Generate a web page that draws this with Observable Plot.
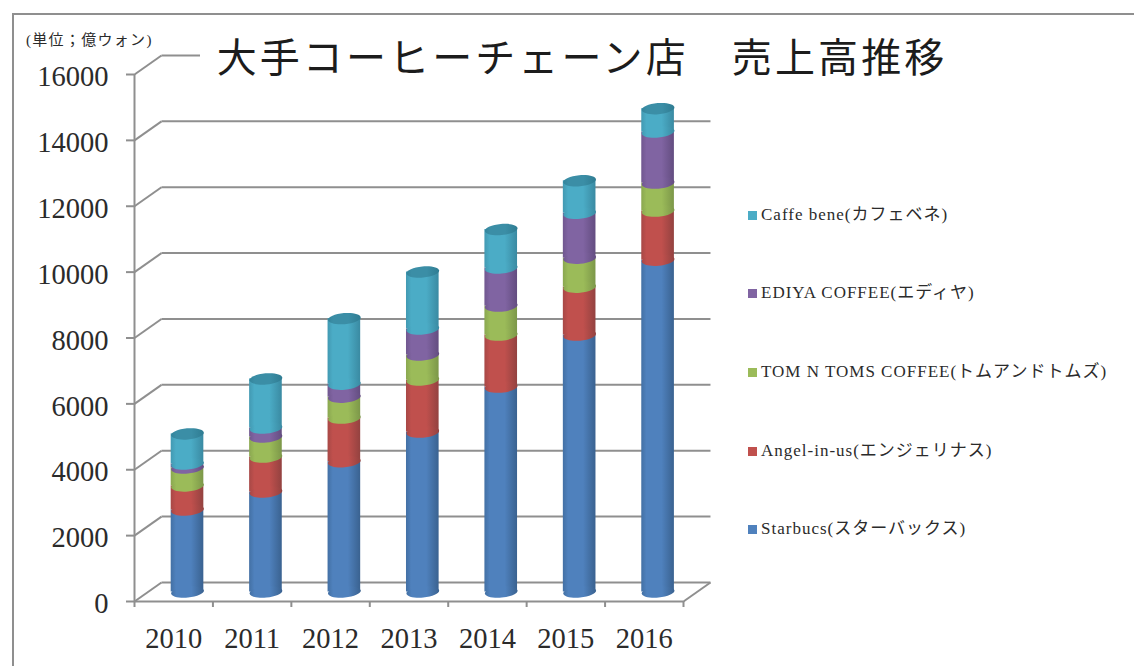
<!DOCTYPE html>
<html lang="ja">
<head>
<meta charset="utf-8">
<script src="https://cdn.jsdelivr.net/npm/d3@7"></script>
<script src="https://cdn.jsdelivr.net/npm/@observablehq/plot@0.6"></script>
<style>
html,body{margin:0;padding:0;background:#fff;overflow:hidden}
#page{position:relative;width:1134px;height:666px;overflow:hidden;font-family:"Liberation Serif","Noto Sans CJK JP",serif;color:#2b2b2b}
#frame{position:absolute;left:12px;top:13px;right:-4px;bottom:-4px;border:2.5px solid #8f8f8f;box-sizing:border-box}
#chart{position:absolute;left:0;top:0}
#title{position:absolute;left:200px;top:31px;width:764px;height:56px;background:#fff;text-align:center;font-size:40px;line-height:56px;letter-spacing:3.1px;font-weight:400;white-space:pre;color:#1c1c1c}
#unit{position:absolute;left:26px;top:31px;font-size:15px;line-height:18px;letter-spacing:1.3px;white-space:pre}
#legend{position:absolute;left:748px;top:0}
.item{position:absolute;left:0;white-space:nowrap;font-size:17px;line-height:18px;letter-spacing:1px;transform:translateY(-9px)}
.item i{display:inline-block;width:9px;height:9px;margin-right:4px;vertical-align:0}
</style>
</head>
<body>
<div id="page">
  <div id="frame"></div>
  <div id="chart"></div>
  <div id="title"></div>
  <div id="unit"></div>
  <div id="legend"></div>
</div>
<script>
const titleText = "大手コーヒーチェーン店　売上高推移";
const unitText = "(単位；億ウォン)";
const years = [2010, 2011, 2012, 2013, 2014, 2015, 2016];
const seriesNames = [
  "Starbucs(スターバックス)",
  "Angel-in-us(エンジェリナス)",
  "TOM N TOMS COFFEE(トムアンドトムズ)",
  "EDIYA COFFEE(エディヤ)",
  "Caffe bene(カフェベネ)"
];
const starbucks = [2490, 3035, 3955, 4855, 6220, 7800, 10075];
const angel     = [ 730, 1060, 1325, 1580, 1580, 1455,  1490];
const tomNToms  = [ 545,  610,  635,  760,  880,  880,   850];
const ediya     = [ 120,  275,  395,  790, 1155, 1365,  1550];
const caffeBene = [ 915, 1490, 1990, 1730, 1170,  985,   710];
const seriesValues = [starbucks, angel, tomNToms, ediya, caffeBene];
const yTicks = [0, 2000, 4000, 6000, 8000, 10000, 12000, 14000, 16000];
const xEdges = [2009.5, 2010.5, 2011.5, 2012.5, 2013.5, 2014.5, 2015.5, 2016.5];

const mid = ["#4f81bd", "#c0504d", "#9bbb59", "#8064a2", "#4bacc6"];
const edge = ["#3a6290", "#934240", "#7c9749", "#634d80", "#3a8aa2"];
const legendY = [529, 451, 372, 293, 215];

// depth of the 3D box, in scale units
const depthX = 0.344, depthY = 577;
const barHalf = 0.208;
const shiftX = 13.8, shiftY = -9.5;

// a tilted flat ellipse used for cylinder ends
const ellipse = {
  draw(ctx, size) {
    const rx = Math.sqrt(size / Math.PI), ry = rx * 0.34, t = -5 * Math.PI / 180;
    const c = Math.cos(t), s = Math.sin(t), k = 0.5523;
    const P = (x, y) => [x * c - y * s, x * s + y * c];
    ctx.moveTo(...P(rx, 0));
    ctx.bezierCurveTo(...P(rx, k * ry), ...P(k * rx, ry), ...P(0, ry));
    ctx.bezierCurveTo(...P(-k * rx, ry), ...P(-rx, k * ry), ...P(-rx, 0));
    ctx.bezierCurveTo(...P(-rx, -k * ry), ...P(-k * rx, -ry), ...P(0, -ry));
    ctx.bezierCurveTo(...P(k * rx, -ry), ...P(rx, -k * ry), ...P(rx, 0));
    ctx.closePath();
  }
};

const rows = seriesNames.map((name, si) => years.map((year, yi) => {
  const base = d3.sum(seriesValues.slice(0, si), (s) => s[yi]);
  return {year, name, y1: base, y2: base + seriesValues[si][yi]};
}));

const defs = () => {
  const ns = "http://www.w3.org/2000/svg";
  const d = document.createElementNS(ns, "defs");
  const make = (id, a, b) => {
    const g = document.createElementNS(ns, "linearGradient");
    g.setAttribute("id", id);
    [[0, d3.interpolateRgb(a, b)(0.45)], [0.16, b], [0.62, b], [1, a]].forEach(([o, c]) => {
      const st = document.createElementNS(ns, "stop");
      st.setAttribute("offset", o);
      st.setAttribute("stop-color", c);
      g.appendChild(st);
    });
    d.appendChild(g);
  };
  mid.forEach((m, i) => make("g" + i, edge[i], m));
  make("cap", "#2f7c92", "#3b8ea6");
  return d;
};

const gridColor = "#8f8f8f";
const xA = xEdges[0], xB = xEdges[xEdges.length - 1];

const barMarks = rows.flatMap((row, i) => [
  Plot.rect(row, {x1: (d) => d.year - barHalf, x2: (d) => d.year + barHalf, y1: "y1", y2: "y2", fill: `url(#g${i})`, dx: shiftX, dy: shiftY}),
  Plot.dot(row, {x: "year", y: "y1", r: 16.4, symbol: ellipse, fill: `url(#g${i})`, dx: shiftX, dy: shiftY})
]);

const chart = Plot.plot({
  width: 1134,
  height: 666,
  marginLeft: 134,
  marginRight: 451,
  marginTop: 74,
  marginBottom: 65,
  style: {background: "transparent", fontFamily: "'Liberation Serif','Noto Sans CJK JP',serif", overflow: "visible"},
  x: {domain: [xA, xB], label: null},
  y: {domain: [0, 16000], label: null},
  marks: [
    defs,
    // back wall lines
    Plot.link(yTicks, {x1: xA, y1: (d) => d, x2: xA + depthX, y2: (d) => d + depthY, stroke: gridColor, strokeWidth: 2}),
    Plot.link(yTicks, {x1: xA + depthX, y1: (d) => d + depthY, x2: xB + depthX, y2: (d) => d + depthY, stroke: gridColor, strokeWidth: 2}),
    Plot.link([0], {x1: xB, y1: 0, x2: xB + depthX, y2: depthY, stroke: gridColor, strokeWidth: 2}),
    // front axes
    Plot.ruleX([xA], {stroke: gridColor, strokeWidth: 2}),
    Plot.ruleY([0], {stroke: gridColor, strokeWidth: 2}),
    Plot.axisY({ticks: yTicks, tickSize: 8, stroke: gridColor, strokeWidth: 2, tickFormat: () => "", label: null}),
    Plot.axisY({ticks: yTicks, tickSize: 0, tickPadding: 26, dy: 2.5, fill: "#2b2b2b", fontSize: 28.5, tickFormat: (d) => String(d), label: null}),
    Plot.axisX({ticks: xEdges, tickSize: 6, stroke: gridColor, strokeWidth: 2, tickFormat: () => "", label: null}),
    Plot.axisX({ticks: years, tickSize: 0, tickPadding: 26, fill: "#2b2b2b", fontSize: 28.5, tickFormat: (d) => String(d), label: null}),
    // cylinders
    ...barMarks,
    Plot.dot(rows[rows.length - 1], {x: "year", y: "y2", r: 16.4, symbol: ellipse, fill: "url(#cap)", dx: shiftX, dy: shiftY})
  ]
});
document.getElementById("chart").appendChild(chart);

document.getElementById("title").textContent = titleText;
document.getElementById("unit").textContent = unitText;
const legend = document.getElementById("legend");
seriesNames.forEach((name, i) => {
  const el = document.createElement("div");
  el.className = "item";
  el.style.top = legendY[i] + "px";
  const sw = document.createElement("i");
  sw.style.background = mid[i];
  el.appendChild(sw);
  el.appendChild(document.createTextNode(name));
  legend.appendChild(el);
});
</script>
</body>
</html>
